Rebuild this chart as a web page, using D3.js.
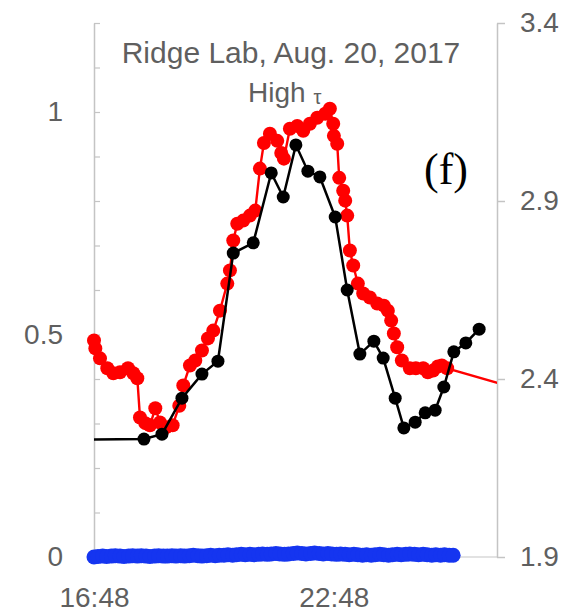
<!DOCTYPE html>
<html><head><meta charset="utf-8">
<script src="https://cdn.jsdelivr.net/npm/d3@7"></script>
<style>
html,body{margin:0;padding:0;background:#fff;}
svg{display:block;}
</style></head>
<body>
<svg id="c" width="574" height="613"></svg>
<script>
// ---- data ----
const titleLine1 = "Ridge Lab, Aug. 20, 2017";
const titleLine2 = "High ";
const titleTau = "τ";
const panelLabel = "(f)";

const xTickLabels = ["16:48", "22:48"];
const leftTickLabels = [0, 0.5, 1];
const rightTickLabels = [1.9, 2.4, 2.9, 3.4];

// black series (left axis)
const blackTimes = ["14:48","18:03","18:30","19:00","19:30","19:54","20:17","20:47","21:14","21:32","21:51","22:09","22:27","22:50","23:08","23:27","23:48","00:02","00:20","00:33","00:50","01:05","01:20","01:33","01:48","02:06","02:26"];
const blackValues = [0.263,0.265,0.276,0.357,0.411,0.440,0.683,0.706,0.863,0.809,0.926,0.867,0.854,0.764,0.600,0.456,0.485,0.447,0.357,0.290,0.303,0.324,0.330,0.382,0.461,0.481,0.512];

// red series (right axis)
const redTimes = ["16:48","16:50","16:57","17:08","17:17","17:27","17:39","17:47","17:53","17:57","18:05","18:12","18:20","18:27","18:36","18:46","18:56","19:02","19:12","19:20","19:30","19:39","19:47","19:57","20:08","20:12","20:17","20:23","20:32","20:42","20:50","20:57","21:03","21:12","21:23","21:29","21:33","21:42","21:53","22:02","22:12","22:23","22:35","22:42","22:47","22:48","22:53","22:56","23:02","23:05","23:08","23:12","23:17","23:24","23:32","23:42","23:53","00:03","00:09","00:14","00:18","00:23","00:30","00:42","00:51","01:02","01:09","01:17","01:24","01:30","01:38","03:58"];
const redValues = [2.508,2.486,2.458,2.430,2.416,2.419,2.430,2.416,2.402,2.292,2.276,2.270,2.318,2.278,2.264,2.270,2.325,2.382,2.438,2.452,2.480,2.514,2.536,2.592,2.668,2.705,2.789,2.836,2.845,2.859,2.873,2.991,3.063,3.089,3.069,3.035,3.019,3.103,3.111,3.097,3.117,3.134,3.145,3.159,3.117,3.083,3.061,2.965,2.929,2.901,2.859,2.761,2.719,2.668,2.640,2.629,2.612,2.606,2.592,2.564,2.528,2.489,2.452,2.430,2.430,2.430,2.419,2.424,2.435,2.438,2.430,2.354];

// blue series (left axis)
const blueTimes = ["16:48","16:54","17:01","17:07","17:14","17:20","17:27","17:33","17:40","17:46","17:53","17:59","18:06","18:12","18:19","18:25","18:32","18:38","18:45","18:51","18:58","19:04","19:11","19:17","19:24","19:30","19:37","19:43","19:50","19:56","20:03","20:09","20:16","20:22","20:29","20:35","20:42","20:48","20:55","21:01","21:08","21:14","21:21","21:27","21:34","21:40","21:47","21:53","22:00","22:06","22:13","22:19","22:26","22:32","22:39","22:45","22:52","22:58","23:05","23:11","23:18","23:24","23:31","23:37","23:44","23:50","23:57","00:03","00:10","00:16","00:23","00:29","00:36","00:42","00:49","00:55","01:02","01:08","01:15","01:21","01:28","01:34","01:41","01:47"];
const blueValues = [0,0.001,0.002,0.001,0.002,0.003,0.002,0.001,0.002,0.003,
0.002,0.003,0.002,0.001,0.002,0.003,0.002,0.002,0.003,0.002,
0.003,0.002,0.003,0.004,0.003,0.002,0.003,0.004,0.003,0.004,
0.004,0.005,0.004,0.005,0.006,0.005,0.006,0.005,0.006,0.007,
0.006,0.007,0.008,0.007,0.006,0.007,0.008,0.009,0.008,0.007,
0.008,0.009,0.008,0.007,0.008,0.007,0.006,0.007,0.006,0.005,
0.006,0.005,0.004,0.005,0.004,0.005,0.006,0.005,0.004,0.005,
0.006,0.005,0.006,0.007,0.006,0.005,0.006,0.005,0.004,0.005,
0.004,0.005,0.004,0.004];

// ---- helpers ----
function toDate(s){
  const [h,m] = s.split(":").map(Number);
  return new Date(2017, 7, h < 12 ? 21 : 20, h, m);
}
const tStart = new Date(2017,7,20,16,48);
const tEnd = new Date(2017,7,21,2,52,48);

const svg = d3.select("#c");
const X0 = 94, X1 = 497, YT = 23, YB = 557;
const x = d3.scaleTime().domain([tStart, tEnd]).range([X0, X1]);
const yL = d3.scaleLinear().domain([0, 1.2]).range([YB, YT]);
const yR = d3.scaleLinear().domain([1.9, 3.4]).range([YB, YT]);

const gray = "#5f5f5f", axisCol = "#c4c4c4";
const SANS = "'Liberation Sans', Arial, sans-serif";
const SERIF = "'Liberation Serif', 'Times New Roman', serif";

svg.append("defs").append("clipPath").attr("id","plot")
  .append("rect").attr("x",X0).attr("y",0).attr("width",X1-X0).attr("height",613);

// zero line
svg.append("line").attr("x1",X0).attr("x2",X1).attr("y1",yL(0)).attr("y2",yL(0))
  .attr("stroke","#d9d9d9").attr("stroke-width",1.5);

// left axis: minor ticks inside
const gLm = svg.append("g").attr("transform",`translate(${X0},0)`)
  .call(d3.axisRight(yL).tickValues(d3.range(0,13).map(i=>i/10)).tickSize(6).tickSizeOuter(0).tickFormat(""));
gLm.select(".domain").attr("stroke",axisCol).attr("stroke-width",1.5);
gLm.selectAll(".tick line").attr("stroke",axisCol).attr("stroke-width",1.2);

const gL = svg.append("g").attr("transform",`translate(${X0},0)`)
  .call(d3.axisLeft(yL).tickValues(leftTickLabels).tickSize(0).tickPadding(31).tickFormat(d3.format("")));
gL.select(".domain").remove();
gL.selectAll("text").style("font-size","28px").style("fill",gray).style("font-family",SANS);

// right axis
const gR = svg.append("g").attr("transform",`translate(${X1},0)`)
  .call(d3.axisRight(yR).tickValues(rightTickLabels).tickSize(8).tickSizeOuter(0).tickPadding(15).tickFormat(d3.format(".1f")));
gR.select(".domain").attr("stroke",axisCol).attr("stroke-width",1.5);
gR.selectAll(".tick line").attr("stroke",axisCol).attr("stroke-width",1.5);
gR.selectAll("text").style("font-size","28px").style("fill",gray).style("font-family",SANS);

// bottom axis labels
const xTicks = xTickLabels.map(toDate);
const gB = svg.append("g").attr("transform",`translate(0,${YB})`)
  .call(d3.axisBottom(x).tickValues(xTicks).tickSize(0).tickFormat(d3.timeFormat("%H:%M")));
gB.select(".domain").remove();
gB.selectAll("text").attr("y",50).attr("dy",0).style("font-size","28px").style("fill",gray)
  .style("font-family",SANS);

// series data
const red = redTimes.map((t,i)=>({t:toDate(t), v:redValues[i]}));
const black = blackTimes.map((t,i)=>({t:toDate(t), v:blackValues[i]}));
const blue = blueTimes.map((t,i)=>({t:toDate(t), v:blueValues[i]}));
const inRange = d => d.t >= tStart && d.t <= tEnd;

// blue
svg.append("g").selectAll("circle").data(blue).join("circle")
  .attr("cx",d=>x(d.t)).attr("cy",d=>yL(d.v)).attr("r",7.5).attr("fill","#1535f0");

// red
svg.append("path").datum(red).attr("clip-path","url(#plot)")
  .attr("d", d3.line().x(d=>x(d.t)).y(d=>yR(d.v)))
  .attr("fill","none").attr("stroke","#ff0000").attr("stroke-width",2.4);
svg.append("g").selectAll("circle").data(red.filter(inRange)).join("circle")
  .attr("cx",d=>x(d.t)).attr("cy",d=>yR(d.v)).attr("r",7).attr("fill","#ff0000");

// black
svg.append("path").datum(black).attr("clip-path","url(#plot)")
  .attr("d", d3.line().x(d=>x(d.t)).y(d=>yL(d.v)))
  .attr("fill","none").attr("stroke","#000").attr("stroke-width",2.5);
svg.append("g").selectAll("circle").data(black.filter(inRange)).join("circle")
  .attr("cx",d=>x(d.t)).attr("cy",d=>yL(d.v)).attr("r",6.5).attr("fill","#000");

// titles
svg.append("text").attr("x",291).attr("y",63).attr("text-anchor","middle")
  .style("font-size","30px").style("fill",gray).style("font-family",SANS).text(titleLine1);
const t2 = svg.append("text").attr("x",248).attr("y",102)
  .style("font-size","28px").style("fill",gray).style("font-family",SANS);
t2.append("tspan").text(titleLine2);
t2.append("tspan").style("font-size","20px").attr("dy",2).text(titleTau);

svg.append("text").attr("x",424).attr("y",184)
  .style("font-family",SERIF).style("font-size","44px")
  .style("fill","#000").text(panelLabel);
</script>
</body></html>
